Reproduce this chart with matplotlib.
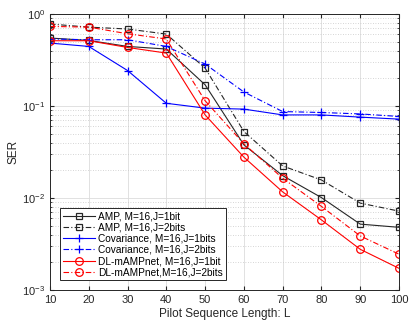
import numpy as np
import matplotlib
matplotlib.use("Agg")
import matplotlib.pyplot as plt
from matplotlib.ticker import LogLocator, NullFormatter

# ── Data ───────────────────────────────────────────────────────────────────────
L = [10, 20, 30, 40, 50, 60, 70, 80, 90, 100]

amp_1bit  = [0.548, 0.516, 0.444, 0.416, 0.170, 0.0378, 0.0175, 0.0101, 0.0052, 0.0048]
amp_2bits = [0.778, 0.720, 0.687, 0.605, 0.258, 0.0528, 0.0223, 0.0157, 0.0088, 0.0072]
cov_1bit  = [0.483, 0.444, 0.243, 0.107, 0.0948, 0.0925, 0.080, 0.080, 0.0757, 0.072]
cov_2bits = [0.535, 0.525, 0.525, 0.444, 0.286, 0.142, 0.087, 0.085, 0.082, 0.077]
dl_1bit   = [0.512, 0.512, 0.433, 0.376, 0.080, 0.0278, 0.01165, 0.00578, 0.00277, 0.00172]
dl_2bits  = [0.733, 0.720, 0.610, 0.535, 0.114, 0.0388, 0.0164, 0.0081, 0.00387, 0.00245]

labels = [
    "AMP, M=16,J=1bit",
    "AMP, M=16,J=2bits",
    "Covariance, M=16,J=1bits",
    "Covariance, M=16,J=2bits",
    "DL-mAMPnet, M=16,J=1bit",
    "DL-mAMPnet,M=16,J=2bits",
]

plt.rcParams["font.family"] = ["Liberation Sans", "DejaVu Sans"]

fig = plt.figure(figsize=(4.16, 3.27), dpi=100)
ax = fig.add_axes([50 / 416, 1 - 290 / 327, 349 / 416, 276 / 327])

dashdot = (0, (5, 2, 1, 2))
sq = dict(marker="s", markersize=4, markerfacecolor="none", markeredgewidth=0.9)
pl = dict(marker="+", markersize=6, markeredgewidth=0.9)
ci = dict(marker="o", markersize=5.5, markerfacecolor="none", markeredgewidth=0.9)

ax.semilogy(L, amp_1bit, color="#262626", ls="-", lw=0.8, label=labels[0], **sq)
ax.semilogy(L, amp_2bits, color="#262626", ls=dashdot, lw=0.8, label=labels[1], **sq)
ax.semilogy(L, cov_1bit, color="#0000ff", ls="-", lw=0.8, label=labels[2], **pl)
ax.semilogy(L, cov_2bits, color="#0000ff", ls=dashdot, lw=0.8, label=labels[3], **pl)
ax.semilogy(L, dl_1bit, color="#ff0000", ls="-", lw=0.8, label=labels[4], **ci)
ax.semilogy(L, dl_2bits, color="#ff0000", ls=dashdot, lw=0.8, label=labels[5], **ci)

ax.set_xlim(10, 100)
ax.set_ylim(1e-3, 1)
ax.set_xticks(L)
ax.yaxis.set_major_locator(LogLocator(base=10, numticks=10))
ax.yaxis.set_minor_locator(LogLocator(base=10, subs=np.arange(2, 10), numticks=10))
ax.yaxis.set_minor_formatter(NullFormatter())

ax.grid(True, which="major", color="#dcdcdc", lw=0.6, ls="-")
ax.grid(True, which="minor", axis="y", color="#c8c8c8", lw=0.6, ls=(0, (1, 2)))
ax.set_axisbelow(True)

ax.tick_params(which="both", direction="in", top=True, right=True, labelsize=8, colors="#262626", length=3)
ax.tick_params(which="minor", length=1.5)
for s in ax.spines.values():
    s.set_color("#262626")
    s.set_linewidth(0.7)

ax.set_xlabel("Pilot Sequence Length: L", fontsize=8.5, color="#262626", labelpad=2)
ax.set_ylabel("SER", fontsize=8.5, color="#262626", labelpad=2)

leg = ax.legend(loc="lower left", bbox_to_anchor=(0.028, 0.035), fontsize=7.3, handlelength=3.2,
                handletextpad=0.3, labelspacing=0.12, borderpad=0.3, fancybox=False, framealpha=1,
                borderaxespad=0)
leg.get_frame().set_edgecolor("#262626")
leg.get_frame().set_linewidth(0.7)

fig.savefig("out.png", dpi=100)
